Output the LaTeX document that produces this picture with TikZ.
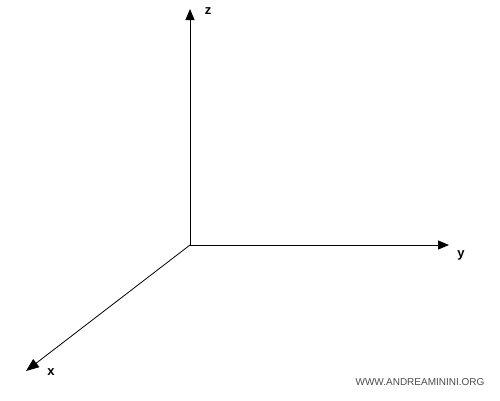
\documentclass[tikz,border=0pt]{standalone}
\usepackage{fontspec}
\setmainfont{Liberation Sans}
\usetikzlibrary{arrows.meta}
\begin{document}
\begin{tikzpicture}[x=1pt,y=-1pt,
  axis/.style={line width=1pt,-{Triangle[length=11pt,width=9pt]}},
  xaxis/.style={line width=0.8pt,-{Triangle[length=13pt,width=10pt]}},
  lab/.style={font=\bfseries\fontsize{13}{15}\selectfont,inner sep=0pt},
  wmark/.style={font=\fontsize{10}{12}\selectfont,text=black!70,inner sep=0pt}]
\useasboundingbox (0,0) rectangle (500,400);
\coordinate (o) at (190,245);
\coordinate (zt) at (190,9);
\coordinate (yt) at (449,245);
\coordinate (xt) at (26,371);
\draw[axis] (o) -- (zt);
\draw[axis] (o) -- (yt);
\draw[xaxis] (o) -- (xt);
\node[lab] (zl) at (208,11) {z};
\node[lab] (yl) at (461,255) {y};
\node[lab] (xl) at (51,372) {x};
\node[wmark] (wm) at (420,382) {WWW.ANDREAMININI.ORG};
\end{tikzpicture}
\end{document}
